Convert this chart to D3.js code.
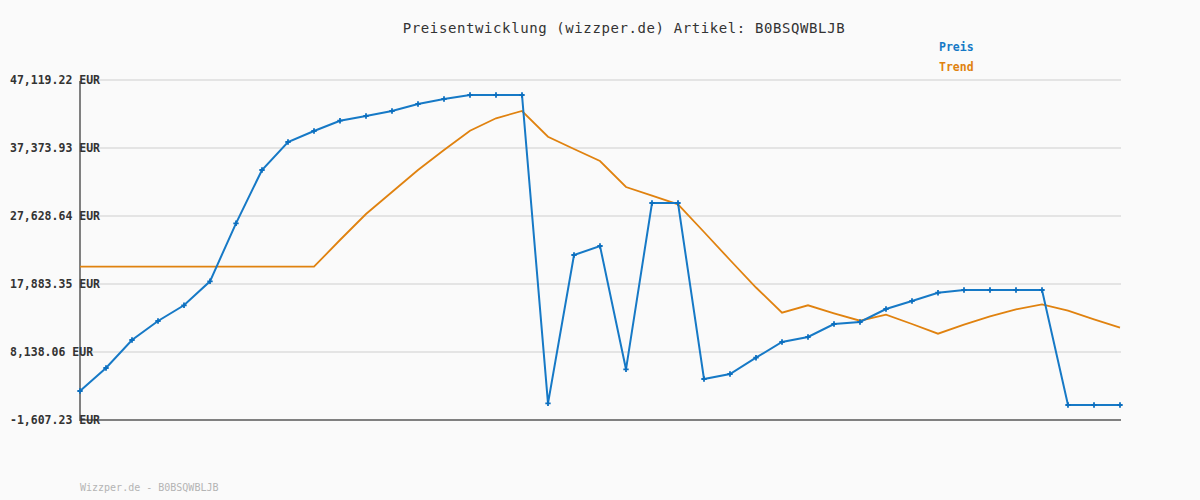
<!DOCTYPE html>
<html>
<head>
<meta charset="utf-8">
<script src="https://cdn.jsdelivr.net/npm/d3@7"></script>
<style>
  html, body { margin: 0; padding: 0; background: #fafafa; }
  svg { display: block; }
</style>
</head>
<body>
<svg id="chart" width="1200" height="500"></svg>
<script>
const chartTitle = "Preisentwicklung (wizzper.de) Artikel: B0BSQWBLJB";
const footerText = "Wizzper.de - B0BSQWBLJB";
const seriesNames = ["Preis", "Trend"];
const tickValues = [-1607.23, 8138.06, 17883.35, 27628.64, 37373.93, 47119.22];
const tickLabels = ["-1,607.23 EUR", "8,138.06 EUR", "17,883.35 EUR", "27,628.64 EUR", "37,373.93 EUR", "47,119.22 EUR"];

const preis = [
  2549, 5845, 9858, 12581, 14830, 18270, 26582, 34221, 38234, 39810,
  41286, 41960, 42676, 43679, 44396, 44969, 44969, 44969, 786, 22039,
  23329, 5658, 29492, 29492, 4268, 4985, 7321, 9571, 10288, 12151,
  12437, 14300, 15447, 16636, 17023, 17023, 17023, 17023, 542, 542, 542
];
const trend = [
  20362, 20362, 20362, 20362, 20362, 20362, 20362, 20362, 20362, 20362,
  24189, 27915, 31068, 34221, 37087, 39853, 41630, 42676, 38993, 37230,
  35511, 31785, 30538, 29305, 25335, 21323, 17382, 13770, 14830, 13684,
  12623, 13483, 12151, 10760, 12050, 13254, 14257, 14974, 14057, 12824, 11620
];

const blue = "#1679c6";
const orange = "#e0820f";
const mono = "'DejaVu Sans Mono', 'Liberation Mono', monospace";

const svg = d3.select("#chart");
svg.append("rect").attr("width", 1200).attr("height", 500).attr("fill", "#fafafa");

const x = d3.scaleLinear().domain([0, preis.length - 1]).range([80, 1120]);
const y = d3.scaleLinear().domain([tickValues[0], tickValues[tickValues.length - 1]]).range([420, 80]);

// gridlines
svg.append("g").selectAll("line").data(tickValues.slice(1)).join("line")
  .attr("x1", 80).attr("x2", 1121)
  .attr("y1", d => y(d)).attr("y2", d => y(d))
  .attr("stroke", "#e4e4e4").attr("stroke-width", 2);

// axes lines
svg.append("line").attr("x1", 80).attr("x2", 80).attr("y1", 81).attr("y2", 421)
  .attr("stroke", "#808080").attr("stroke-width", 2);
svg.append("line").attr("x1", 79).attr("x2", 1121).attr("y1", y(tickValues[0])).attr("y2", y(tickValues[0]))
  .attr("stroke", "#808080").attr("stroke-width", 2);

// tick labels
svg.append("g").selectAll("text").data(tickValues).join("text")
  .attr("x", 10).attr("y", d => y(d) + 4)
  .attr("font-family", mono).attr("font-size", 11.5).attr("font-weight", "bold")
  .attr("fill", "#333")
  .text((d, i) => tickLabels[i]);

// lines
const line = d3.line().x((d, i) => x(i)).y(d => y(d));
svg.append("path").datum(trend).attr("d", line)
  .attr("fill", "none").attr("stroke", orange).attr("stroke-width", 1.8);
svg.append("path").datum(preis).attr("d", line)
  .attr("fill", "none").attr("stroke", blue).attr("stroke-width", 2);

// markers
const cross = d3.symbol().type(d3.symbolCross).size(16);
svg.append("g").selectAll("path").data(preis).join("path")
  .attr("transform", (d, i) => `translate(${x(i)},${y(d)})`)
  .attr("d", cross).attr("fill", "#0c6fbf");

// title
svg.append("text").attr("x", 624).attr("y", 33).attr("text-anchor", "middle")
  .attr("font-family", mono).attr("font-size", 14).attr("letter-spacing", 0.6)
  .attr("fill", "#333").text(chartTitle);

// legend
svg.append("g").selectAll("text").data(seriesNames).join("text")
  .attr("x", 939).attr("y", (d, i) => 51 + i * 20)
  .attr("font-family", mono).attr("font-size", 11.5).attr("font-weight", "bold")
  .attr("fill", (d, i) => i === 0 ? blue : orange)
  .text(d => d);

// footer
svg.append("text").attr("x", 80).attr("y", 491)
  .attr("font-family", mono).attr("font-size", 10)
  .attr("fill", "#b4b4b4").text(footerText);
</script>
</body>
</html>
